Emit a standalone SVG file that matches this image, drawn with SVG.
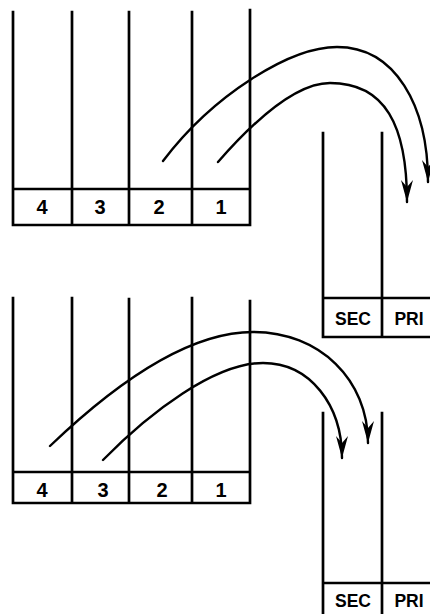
<svg xmlns="http://www.w3.org/2000/svg" width="430" height="614" viewBox="0 0 430 614">
<style>
.ln{stroke:#000;stroke-width:2.7;fill:none;stroke-linecap:square}
.cv{stroke:#000;stroke-width:2.4;fill:none;stroke-linecap:round}
.t{font-family:"Liberation Sans",Arial,sans-serif;font-size:20px;font-weight:bold;fill:#000;text-anchor:middle}
.s{font-family:"Liberation Sans",Arial,sans-serif;font-size:17.5px;font-weight:bold;fill:#000;text-anchor:middle}
</style>
<defs>
<marker id="ah" markerUnits="userSpaceOnUse" viewBox="-23 -7 25 14" refX="0" refY="0" markerWidth="25" markerHeight="14" orient="auto">
<path d="M0,0 L-22,-6 L-15,0 L-22,6 Z" fill="#000"/>
</marker>
</defs>
<rect width="430" height="614" fill="#fff"/>
<g id="top-array">
<path class="ln" d="M13,12 V225 M72,12 V225 M129,12 V225 M192,12 V225 M250,10 V225 M13,189 H250 M13,225 H250"/>
<text class="t" x="42" y="214">4</text>
<text class="t" x="100" y="214">3</text>
<text class="t" x="159" y="214">2</text>
<text class="t" x="221" y="214">1</text>
</g>
<g id="top-sec-pri">
<path class="ln" d="M323,133 V337 M382,133 V337 M323,298 H430 M323,337 H430"/>
<text class="s" x="353" y="325">SEC</text>
<text class="s" x="409" y="325">PRI</text>
</g>
<g id="bottom-array">
<path class="ln" d="M13,298 V503 M72,298 V503 M129,299 V503 M192,298 V503 M250,301 V503 M13,472 H250 M13,503 H250"/>
<text class="t" x="42" y="497">4</text>
<text class="t" x="103" y="497">3</text>
<text class="t" x="162" y="497">2</text>
<text class="t" x="221" y="497">1</text>
</g>
<g id="bottom-sec-pri">
<path class="ln" d="M323,413 V614 M382,413 V614 M323,583 H430"/>
<text class="s" x="353" y="607">SEC</text>
<text class="s" x="409" y="607">PRI</text>
</g>
<g id="connectors">
<path class="cv" marker-end="url(#ah)" d="M163,161 C213,95 290,47 337,47 C395,47 428,105 428,182"/>
<path class="cv" marker-end="url(#ah)" d="M218,162 C253,122 295,83 330,83 C385,83 407,125 407,202"/>
<path class="cv" marker-end="url(#ah)" d="M50,446 C120,379 190,332 253,332 C320,332 368,380 368,443"/>
<path class="cv" marker-end="url(#ah)" d="M103,460 C150,412 215,363 263,363 C310,363 342,405 342,458"/>
</g>
</svg>
